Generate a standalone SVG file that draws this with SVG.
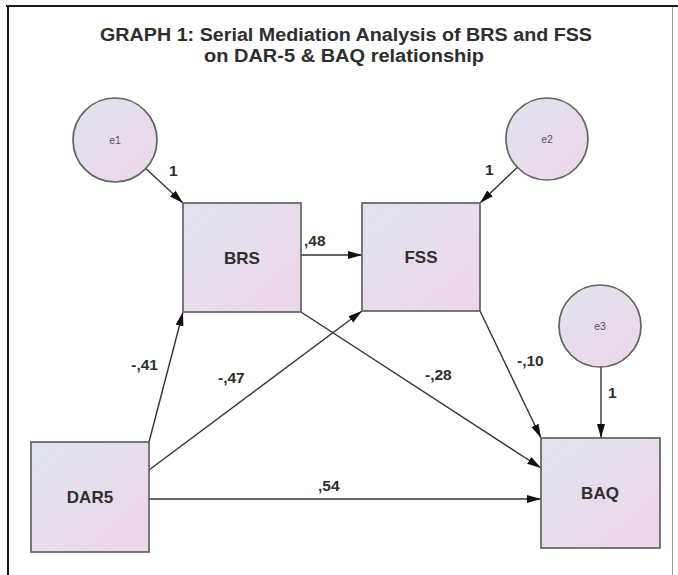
<svg xmlns="http://www.w3.org/2000/svg" width="678" height="575" viewBox="0 0 678 575">
  <style>
    .title { font-family: "Liberation Sans", Arial, sans-serif; font-weight: bold; font-size: 17.5px; fill: #2e2e2e; text-anchor: middle; }
    .node { stroke: #626262; stroke-width: 1.7; }
    .obs { fill: url(#nodeFill); }
    .err { fill: url(#nodeFill); }
    .name { font-family: "Liberation Sans", Arial, sans-serif; font-weight: bold; font-size: 17px; fill: #2e2e2e; text-anchor: middle; dominant-baseline: central; }
    .ename { font-family: "Liberation Sans", Arial, sans-serif; font-size: 10.5px; fill: #505050; text-anchor: middle; dominant-baseline: central; }
    .edge { stroke: #333; stroke-width: 1.4; fill: none; marker-end: url(#arrow); }
    .lbl { font-family: "Liberation Sans", Arial, sans-serif; font-weight: bold; font-size: 15.5px; fill: #2e2e2e; }
  </style>
  <defs>
    <linearGradient id="nodeFill" x1="0" y1="0" x2="1" y2="1">
      <stop offset="0" stop-color="#dfe3ee"/>
      <stop offset="1" stop-color="#efd6ea"/>
    </linearGradient>
    <marker id="arrow" markerUnits="userSpaceOnUse" markerWidth="14" markerHeight="9" refX="14" refY="4.5" orient="auto">
      <path d="M0,0.5 L14,4.5 L0,8.5 z" fill="#111"/>
    </marker>
  </defs>

  <rect x="0" y="0" width="678" height="575" fill="#fff"/>

  <!-- frame -->
  <g id="frame">
    <line x1="6" y1="6" x2="678" y2="6" stroke="#1a1a1a" stroke-width="2"/>
    <line x1="8" y1="5" x2="8" y2="575" stroke="#1a1a1a" stroke-width="2"/>
    <line x1="672.5" y1="7" x2="672.5" y2="575" stroke="#9a9a9a" stroke-width="1"/>
  </g>

  <!-- title -->
  <g id="title">
    <text class="title" x="346" y="41" textLength="492" lengthAdjust="spacingAndGlyphs">GRAPH 1: Serial Mediation Analysis of BRS and FSS</text>
    <text class="title" x="344" y="62" textLength="280" lengthAdjust="spacingAndGlyphs">on DAR-5 &amp; BAQ relationship</text>
  </g>

  <!-- paths -->
  <g id="connectors">
    <line class="edge" x1="145.8" y1="168.5" x2="183" y2="203"/>
    <line class="edge" x1="517.3" y1="167.3" x2="480" y2="203"/>
    <line class="edge" x1="601" y1="367" x2="601" y2="438"/>
    <line class="edge" x1="301" y1="255" x2="362" y2="255"/>
    <line class="edge" x1="149" y1="442" x2="183" y2="312"/>
    <line class="edge" x1="149" y1="470" x2="362" y2="311"/>
    <line class="edge" x1="301" y1="312" x2="541" y2="468"/>
    <line class="edge" x1="480" y1="311" x2="541" y2="438"/>
    <line class="edge" x1="149" y1="499" x2="541" y2="499"/>
  </g>

  <!-- path coefficients -->
  <g id="labels">
    <text class="lbl" x="169" y="176">1</text>
    <text class="lbl" x="485" y="175">1</text>
    <text class="lbl" x="608" y="398">1</text>
    <text class="lbl" x="304" y="246">,48</text>
    <text class="lbl" x="158" y="370" text-anchor="end">-,41</text>
    <text class="lbl" x="218" y="383">-,47</text>
    <text class="lbl" x="425" y="380">-,28</text>
    <text class="lbl" x="517" y="366">-,10</text>
    <text class="lbl" x="318" y="491">,54</text>
  </g>

  <g id="e1">
    <circle class="node err" cx="115" cy="140" r="42"/>
    <text class="ename" x="115" y="140">e1</text>
  </g>
  <g id="e2">
    <circle class="node err" cx="547" cy="139" r="41"/>
    <text class="ename" x="547" y="139">e2</text>
  </g>
  <g id="e3">
    <circle class="node err" cx="600" cy="326" r="41"/>
    <text class="ename" x="600" y="326">e3</text>
  </g>
  <g id="BRS">
    <rect class="node obs" x="183" y="203" width="118" height="109"/>
    <text class="name" x="242" y="258">BRS</text>
  </g>
  <g id="FSS">
    <rect class="node obs" x="362" y="203" width="118" height="108"/>
    <text class="name" x="421" y="257">FSS</text>
  </g>
  <g id="DAR5">
    <rect class="node obs" x="31" y="442" width="118" height="110"/>
    <text class="name" x="90" y="497">DAR5</text>
  </g>
  <g id="BAQ">
    <rect class="node obs" x="541" y="438" width="119" height="110"/>
    <text class="name" x="600" y="493">BAQ</text>
  </g>
</svg>
